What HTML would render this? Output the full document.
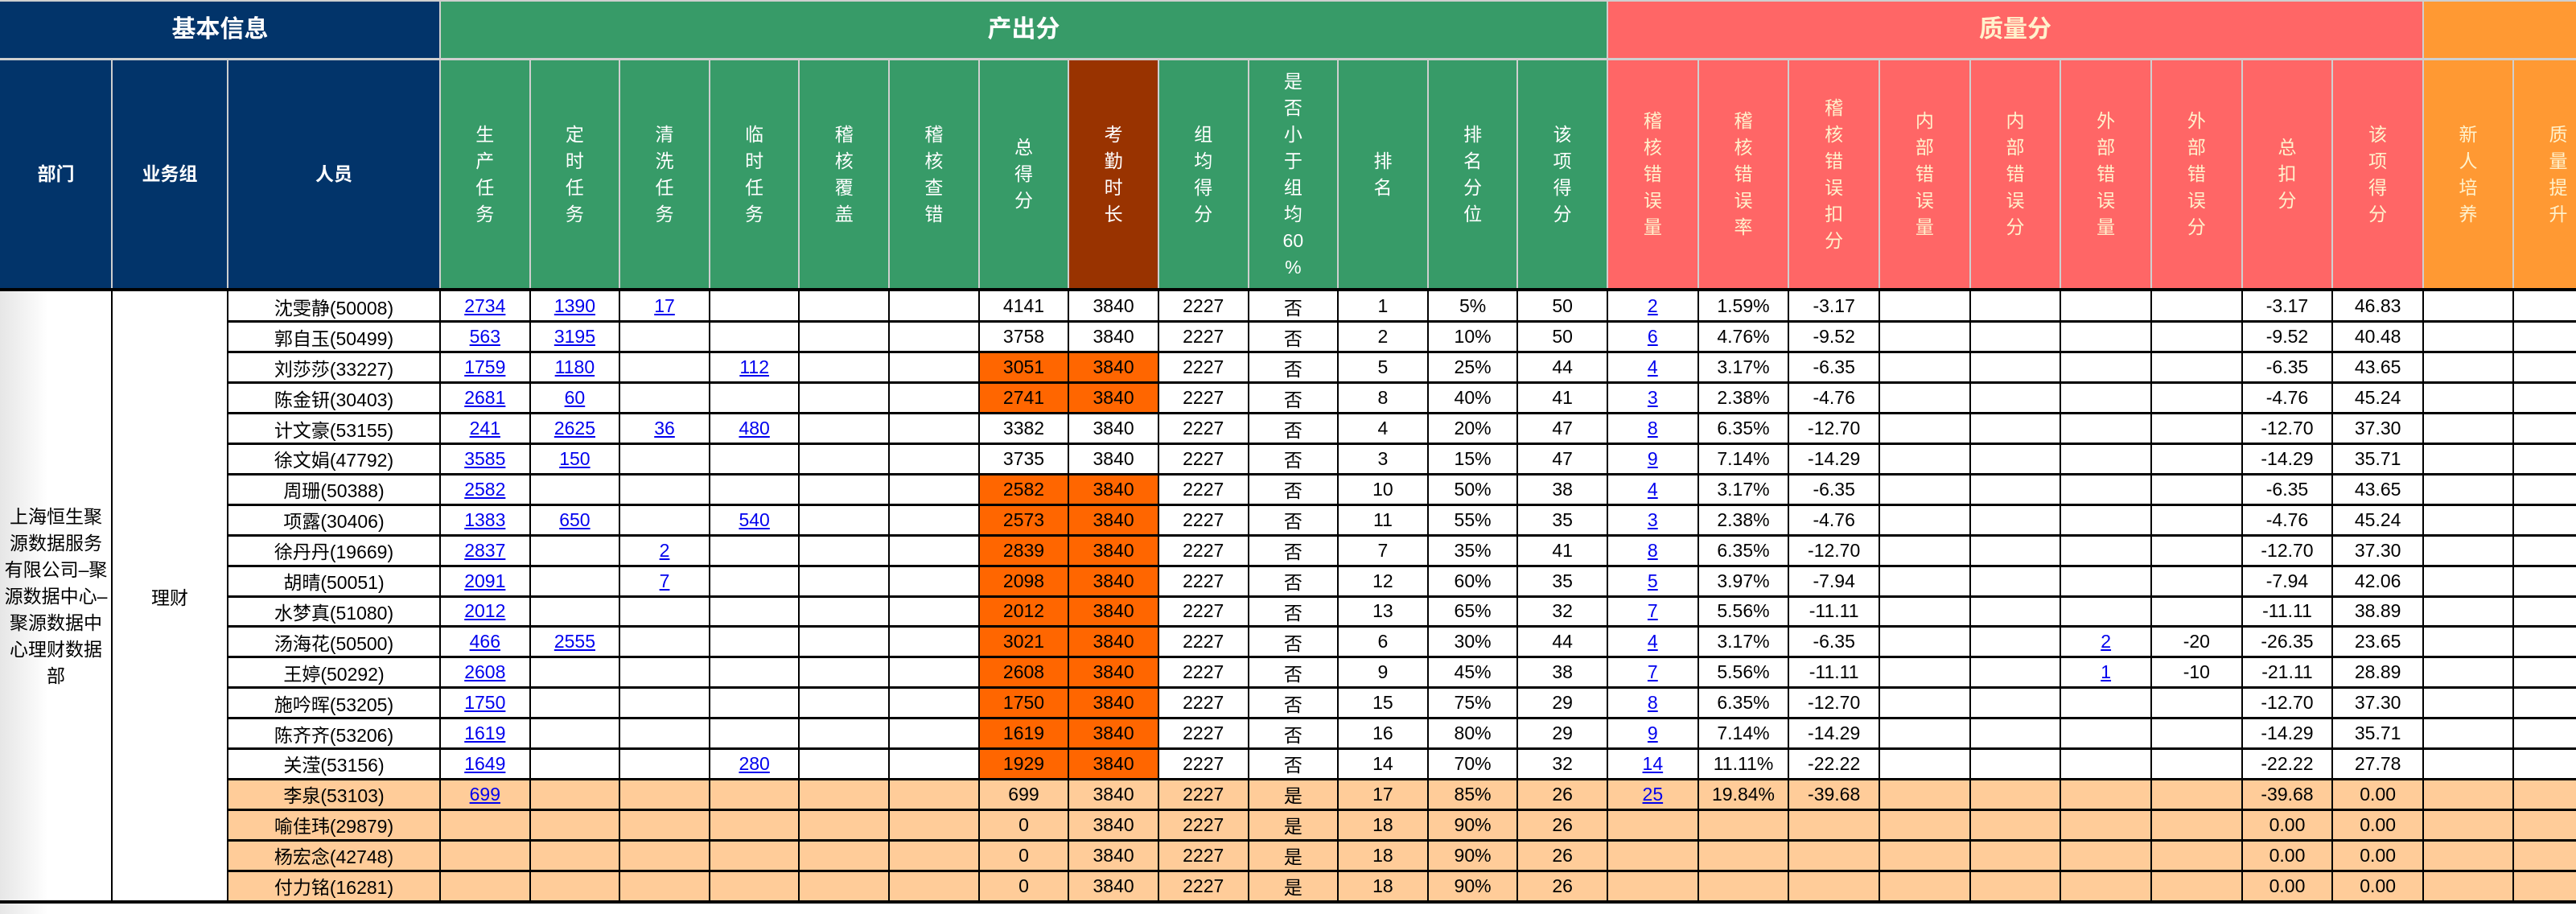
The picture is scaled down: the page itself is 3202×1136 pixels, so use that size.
<!DOCTYPE html>
<html><head><meta charset="utf-8">
<style>
html,body{margin:0;padding:0;background:#fff;}
#root{position:relative;width:3202px;height:1136px;overflow:hidden;font-family:"Liberation Sans","Noto Sans CJK SC",sans-serif;}
.c{position:absolute;box-sizing:border-box;display:flex;align-items:center;justify-content:center;text-align:center;font-size:23px;color:#000;}
.h{color:#fff;font-size:23px;line-height:33px;}
.hr{color:#FFF2CC;}
.g{font-weight:bold;font-size:30px;}
.v{width:1em;word-break:break-all;white-space:normal;}
a{color:#0000EE;text-decoration:underline;}
.ln{position:absolute;}
</style></head><body>
<div id="root"></div>
<script>
const root=document.getElementById('root');
// column edges
const X=[0,139,283,547];
for(let k=1;k<=13;k++)X.push(547+k*(1998-547)/13);
for(let k=1;k<=9;k++)X.push(1998+k*(3012-1998)/9);
X.push(3124);X.push(3236);
const bodyTop=362,rowH=37.9;
const NAVY='#02346A',GREEN='#379B68',RED='#FF6666',ORANGE='#FF9933';
function cell(x0,x1,y0,y1,bg,html,cls,name,inter){
  const d=document.createElement('div');
  d.className='c '+(cls||'');
  d.style.left=x0+'px';d.style.top=y0+'px';d.style.width=(x1-x0)+'px';d.style.height=(y1-y0)+'px';
  if(bg)d.style.background=bg;
  d.innerHTML=html||'';
  
  
  root.appendChild(d);return d;
}
// group header
cell(0,547,0,73,NAVY,'基本信息','h g','group-basic-info');
cell(547,1998,0,73,GREEN,'产出分','h g','group-output-score');
cell(1998,3012,0,73,RED,'质量分','h g hr','group-quality-score');
cell(3012,3202,0,73,ORANGE,'','h','group-other');
const heads=['部门','业务组','人员','生产任务','定时任务','清洗任务','临时任务','稽核覆盖','稽核查错','总得分','考勤时长','组均得分','是否小于组均60%','排名','排名分位','该项得分','稽核错误量','稽核错误率','稽核错误扣分','内部错误量','内部错误分','外部错误量','外部错误分','总扣分','该项得分','新人培养','质量提升'];
heads.forEach((t,i)=>{
  let bg=i<3?NAVY:i<16?GREEN:i<25?RED:ORANGE;
  if(i==10)bg='#993300';
  let html;
  if(i<3)html='<b>'+t+'</b>';
  else{
    const parts=t==='是否小于组均60%'?['是','否','小','于','组','均','60','%']:t.split('');
    html='<div>'+parts.map(p=>'<div>'+p+'</div>').join('')+'</div>';
  }
  cell(X[i],X[i+1],74,359,bg,html,'h'+(i>=16?' hr':''),'header-'+(i+1));
});
// data
const names=['沈雯静(50008)','郭自玉(50499)','刘莎莎(33227)','陈金钘(30403)','计文豪(53155)','徐文娟(47792)','周珊(50388)','项露(30406)','徐丹丹(19669)','胡晴(50051)','水梦真(51080)','汤海花(50500)','王婷(50292)','施吟晖(53205)','陈齐齐(53206)','关滢(53156)','李泉(53103)','喻佳玮(29879)','杨宏念(42748)','付力铭(16281)'];
const rows=[
['2734','1390','17','','','','4141','3840','2227','否','1','5%','50','2','1.59%','-3.17','','','','','-3.17','46.83'],
['563','3195','','','','','3758','3840','2227','否','2','10%','50','6','4.76%','-9.52','','','','','-9.52','40.48'],
['1759','1180','','112','','','3051','3840','2227','否','5','25%','44','4','3.17%','-6.35','','','','','-6.35','43.65'],
['2681','60','','','','','2741','3840','2227','否','8','40%','41','3','2.38%','-4.76','','','','','-4.76','45.24'],
['241','2625','36','480','','','3382','3840','2227','否','4','20%','47','8','6.35%','-12.70','','','','','-12.70','37.30'],
['3585','150','','','','','3735','3840','2227','否','3','15%','47','9','7.14%','-14.29','','','','','-14.29','35.71'],
['2582','','','','','','2582','3840','2227','否','10','50%','38','4','3.17%','-6.35','','','','','-6.35','43.65'],
['1383','650','','540','','','2573','3840','2227','否','11','55%','35','3','2.38%','-4.76','','','','','-4.76','45.24'],
['2837','','2','','','','2839','3840','2227','否','7','35%','41','8','6.35%','-12.70','','','','','-12.70','37.30'],
['2091','','7','','','','2098','3840','2227','否','12','60%','35','5','3.97%','-7.94','','','','','-7.94','42.06'],
['2012','','','','','','2012','3840','2227','否','13','65%','32','7','5.56%','-11.11','','','','','-11.11','38.89'],
['466','2555','','','','','3021','3840','2227','否','6','30%','44','4','3.17%','-6.35','','','2','-20','-26.35','23.65'],
['2608','','','','','','2608','3840','2227','否','9','45%','38','7','5.56%','-11.11','','','1','-10','-21.11','28.89'],
['1750','','','','','','1750','3840','2227','否','15','75%','29','8','6.35%','-12.70','','','','','-12.70','37.30'],
['1619','','','','','','1619','3840','2227','否','16','80%','29','9','7.14%','-14.29','','','','','-14.29','35.71'],
['1649','','','280','','','1929','3840','2227','否','14','70%','32','14','11.11%','-22.22','','','','','-22.22','27.78'],
['699','','','','','','699','3840','2227','是','17','85%','26','25','19.84%','-39.68','','','','','-39.68','0.00'],
['','','','','','','0','3840','2227','是','18','90%','26','','','','','','','','0.00','0.00'],
['','','','','','','0','3840','2227','是','18','90%','26','','','','','','','','0.00','0.00'],
['','','','','','','0','3840','2227','是','18','90%','26','','','','','','','','0.00','0.00']];
const hiRows=[2,3,6,7,8,9,10,11,12,13,14,15];
const linkCols=[0,1,2,3,13,18];
const yEnd=bodyTop+20*rowH;
cell(0,139,bodyTop,yEnd,'linear-gradient(to right,#e6e6e6 0px,#ffffff 60px)','<div style="line-height:33px">上海恒生聚<br>源数据服务<br>有限公司–聚<br>源数据中心–<br>聚源数据中<br>心理财数据<br>部</div>','','department-cell');
cell(139,283,bodyTop,yEnd,'#fff','理财','','business-group-cell');
names.forEach((n,r)=>{
  const y0=bodyTop+r*rowH,y1=y0+rowH;
  const lo=r>=16;
  cell(X[2],X[3],y0,y1,lo?'#FFCC99':'#fff',n,'','person-name');
  rows[r].forEach((v,j)=>{
    const ci=j+3;
    let bg=lo?'#FFCC99':'#fff';
    if((j==6||j==7)&&hiRows.includes(r))bg='#FF6600';
    const html=(v&&linkCols.includes(j))?'<a>'+v+'</a>':v;
    const d=cell(X[ci],X[ci+1],y0,y1,bg,html,'','cell-'+heads[ci],!!(v&&linkCols.includes(j)));
  });
  cell(X[25],X[26],y0,y1,lo?'#FFCC99':'#fff','','','cell-新人培养');
  cell(X[26],X[27],y0,y1,lo?'#FFCC99':'#fff','','','cell-质量提升');
});
// lines
function ln(x,y,w,h,c,name){const d=document.createElement('div');d.className='ln';d.style.left=x+'px';d.style.top=y+'px';d.style.width=w+'px';d.style.height=h+'px';d.style.background=c;


root.appendChild(d);}
ln(0,72,3202,3,'#cfcfcf','header-divider');
for(let i=1;i<X.length-1;i++){ln(X[i]-1,74,2,285,'#cfcfcf','header-gridline');}
[547,1998,3012].forEach(x=>ln(x-1,0,2,74,'#cfcfcf','group-gridline'));
ln(0,0,3202,2,'#cfcfcf','top-border');
ln(0,358,3202,4,'#000','header-body-divider');
for(let r=1;r<20;r++)ln(283,bodyTop+r*rowH-1.5,2919,3,'#000','row-gridline');
ln(0,yEnd-1,3202,4,'#000','bottom-border');
for(let i=1;i<X.length-1;i++)ln(X[i]-1,bodyTop,2,yEnd-bodyTop,'#000','col-gridline');
cell(0,3202,yEnd+3,1136,'linear-gradient(to right,#e6e6e6 0px,#ffffff 60px)','','','footer-space');
</script>
</body></html>
